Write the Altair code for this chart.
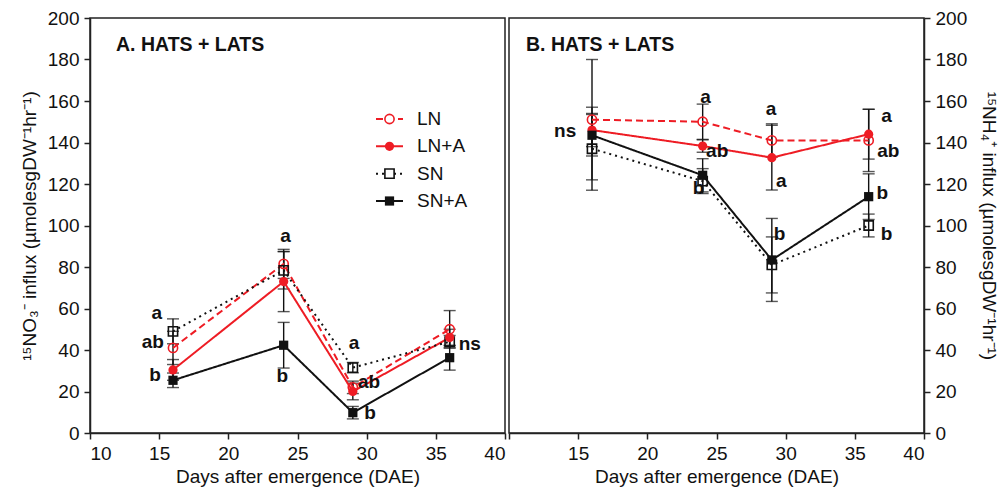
import altair as alt
import pandas as pd

# Sampling days (days after emergence)
days = [16, 24, 29, 36]
series = ["LN", "LN+A", "SN", "SN+A"]

# Panel A: 15NO3- influx, means and standard errors per treatment
no3_ln = [41.0, 81.5, 22.0, 50.0]
no3_lna = [30.4, 73.0, 20.0, 46.0]
no3_sn = [49.0, 78.4, 31.5, 44.0]
no3_sna = [25.4, 42.3, 9.8, 36.3]
no3_ln_err = [8.0, 7.0, 3.0, 9.0]
no3_lna_err = [5.0, 14.5, 4.0, 4.0]
no3_sn_err = [6.0, 9.0, 2.5, 3.0]
no3_sna_err = [3.5, 11.0, 3.0, 6.0]

# Panel B: 15NH4+ influx, means and standard errors per treatment
nh4_ln = [151.0, 150.0, 141.0, 141.0]
nh4_lna = [146.0, 138.3, 132.7, 144.0]
nh4_sn = [137.0, 121.4, 81.0, 100.0]
nh4_sna = [143.5, 124.2, 83.4, 113.9]
nh4_ln_err = [29.0, 8.5, 8.0, 15.0]
nh4_lna_err = [8.0, 3.0, 15.6, 12.0]
nh4_sn_err = [20.0, 6.0, 13.5, 5.5]
nh4_sna_err = [10.0, 8.0, 20.0, 11.0]

# Significance letters (text, day, level)
no3_letters = ["a", "ab", "b", "a", "b", "a", "ab", "b", "ns"]
no3_letter_day = [14.83, 14.54, 14.71, 24.13, 23.9, 29.08, 30.17, 30.24, 37.45]
no3_letter_val = [58.0, 43.9, 27.8, 95.0, 27.5, 43.2, 24.6, 9.8, 42.7]

nh4_letters = ["ns", "a", "ab", "b", "a", "a", "b", "a", "ab", "b", "b"]
nh4_letter_day = [14.06, 24.2, 25.05, 23.7, 28.94, 29.68, 29.56, 37.3, 37.42, 36.99, 37.3]
nh4_letter_val = [145.5, 162.0, 135.9, 118.2, 156.0, 121.4, 95.7, 153.0, 135.9, 115.8, 95.7]

RED = "#ee1c24"
INK = "#111111"
FONT = "Liberation Sans"


def frame(means, errs):
    rows = []
    for s, m_list, e_list in zip(series, means, errs):
        for d, m, e in zip(days, m_list, e_list):
            rows.append({"day": d, "series": s, "value": m, "lo": m - e, "hi": m + e})
    return pd.DataFrame(rows)


color = alt.Color("series:N", scale=alt.Scale(domain=series, range=[RED, RED, INK, INK]), legend=None)
dash = alt.StrokeDash("series:N",
                      scale=alt.Scale(domain=series, range=[[7, 4], [1, 0], [2, 4], [1, 0]]),
                      legend=None)
shape = alt.Shape("series:N",
                  scale=alt.Scale(domain=series, range=["circle", "circle", "square", "square"]),
                  legend=None)
size = alt.Size("series:N", scale=alt.Scale(domain=series, range=[85, 85, 95, 95]), legend=None)


def panel(df, letters, letter_day, letter_val, y_title, y_orient, title_text, title_x, with_legend):
    x_axis = alt.Axis(values=[10, 15, 20, 25, 30, 35, 40], title="Days after emergence (DAE)",
                      labelExpr=("datum.label" if y_orient == "left"
                                 else "datum.value == 10 ? '' : datum.label"))
    y_axis = alt.Axis(orient=y_orient, values=list(range(0, 201, 20)), title=y_title,
                      titlePadding=(8 if y_orient == "left" else 12))
    xs = alt.Scale(domain=[10, 40], nice=False, zero=False)
    ys = alt.Scale(domain=[0, 200], nice=False)

    def X(f):
        return alt.X(f, scale=xs, axis=x_axis)

    def Y(f):
        return alt.Y(f, scale=ys, axis=y_axis)

    base = alt.Chart(df)
    bars = base.mark_rule(color=INK, strokeWidth=1.4).encode(x=X("day:Q"), y=Y("lo:Q"), y2="hi:Q")
    cap_lo = base.mark_tick(orient="horizontal", color=INK, size=12, thickness=1.4).encode(
        x=X("day:Q"), y=Y("lo:Q"))
    cap_hi = base.mark_tick(orient="horizontal", color=INK, size=12, thickness=1.4).encode(
        x=X("day:Q"), y=Y("hi:Q"))
    lines = base.mark_line(strokeWidth=2).encode(
        x=X("day:Q"), y=Y("value:Q"), color=color, strokeDash=dash, order="day:Q")
    open_pts = base.transform_filter(
        alt.FieldOneOfPredicate(field="series", oneOf=["LN", "SN"])
    ).mark_point(filled=False, strokeWidth=1.6, opacity=1).encode(
        x=X("day:Q"), y=Y("value:Q"), color=color, shape=shape, size=size)
    full_pts = base.transform_filter(
        alt.FieldOneOfPredicate(field="series", oneOf=["LN+A", "SN+A"])
    ).mark_point(filled=True, opacity=1).encode(
        x=X("day:Q"), y=Y("value:Q"), color=color, shape=shape, size=size)

    ldf = pd.DataFrame({"label": letters, "day": letter_day, "value": letter_val})
    texts = alt.Chart(ldf).mark_text(fontWeight="bold", fontSize=19, color=INK,
                                     align="center", baseline="middle").encode(
        x=X("day:Q"), y=Y("value:Q"), text="label:N")

    main = alt.layer(bars, cap_lo, cap_hi, lines, open_pts, full_pts, texts)

    tdf = pd.DataFrame({"t": [title_text]})
    title = alt.Chart(tdf).mark_text(fontWeight="bold", fontSize=19.5, color=INK,
                                     align="left", baseline="middle").encode(
        x=alt.value(title_x), y=alt.value(27), text="t:N")

    if not with_legend:
        return alt.layer(main, title).properties(width=415, height=415)

    # Legend drawn as its own small layer inside the plot area
    leg = pd.DataFrame({"series": series})
    ly = alt.Y("series:N", scale=alt.Scale(domain=series, type="point", range=[101, 183], padding=0),
               axis=None)
    leg_line = alt.Chart(leg).mark_rule(strokeWidth=2).encode(
        x=alt.value(286), x2=alt.value(313), y=ly, color=color, strokeDash=dash)
    leg_open = alt.Chart(leg).transform_filter(
        alt.FieldOneOfPredicate(field="series", oneOf=["LN", "SN"])
    ).mark_point(filled=False, strokeWidth=1.6, opacity=1, fill="white").encode(
        x=alt.value(299.5), y=ly, color=color, shape=shape, size=size)
    leg_full = alt.Chart(leg).transform_filter(
        alt.FieldOneOfPredicate(field="series", oneOf=["LN+A", "SN+A"])
    ).mark_point(filled=True, opacity=1).encode(
        x=alt.value(299.5), y=ly, color=color, shape=shape, size=size)
    leg_text = alt.Chart(leg).mark_text(align="left", baseline="middle", fontSize=19, color=INK).encode(
        x=alt.value(327), y=ly, text="series:N")
    legend = alt.layer(leg_line, leg_open, leg_full, leg_text, title)

    return alt.layer(main, legend).resolve_scale(y="independent").properties(width=415, height=415)


left = panel(frame([no3_ln, no3_lna, no3_sn, no3_sna], [no3_ln_err, no3_lna_err, no3_sn_err, no3_sna_err]),
             no3_letters, no3_letter_day, no3_letter_val,
             "¹⁵NO₃⁻ influx (µmolesgDW⁻¹hr⁻¹)", "left", "A. HATS + LATS", 26, True)
right = panel(frame([nh4_ln, nh4_lna, nh4_sn, nh4_sna], [nh4_ln_err, nh4_lna_err, nh4_sn_err, nh4_sna_err]),
              nh4_letters, nh4_letter_day, nh4_letter_val,
              "¹⁵NH₄⁺ influx (µmolesgDW⁻¹hr⁻¹)", "right", "B. HATS + LATS", 17, False)

chart = alt.hconcat(left, right, spacing=0).properties(
    padding={"left": 19, "top": 8, "right": 5, "bottom": 5},
    background="white",
).configure(font=FONT).configure_view(
    stroke="#222222", strokeWidth=1.5
).configure_axis(
    grid=False, domainColor="#222222", domainWidth=1.5, tickColor="#222222", tickWidth=1.5,
    tickSize=6, labelFontSize=19, titleFontSize=19, labelColor=INK, titleColor=INK,
    titleFontWeight="normal", labelPadding=5, labelFont=FONT, titleFont=FONT
).configure_axisX(titlePadding=4)

chart.save("out.html", embed_options={"renderer": "svg", "actions": False})
